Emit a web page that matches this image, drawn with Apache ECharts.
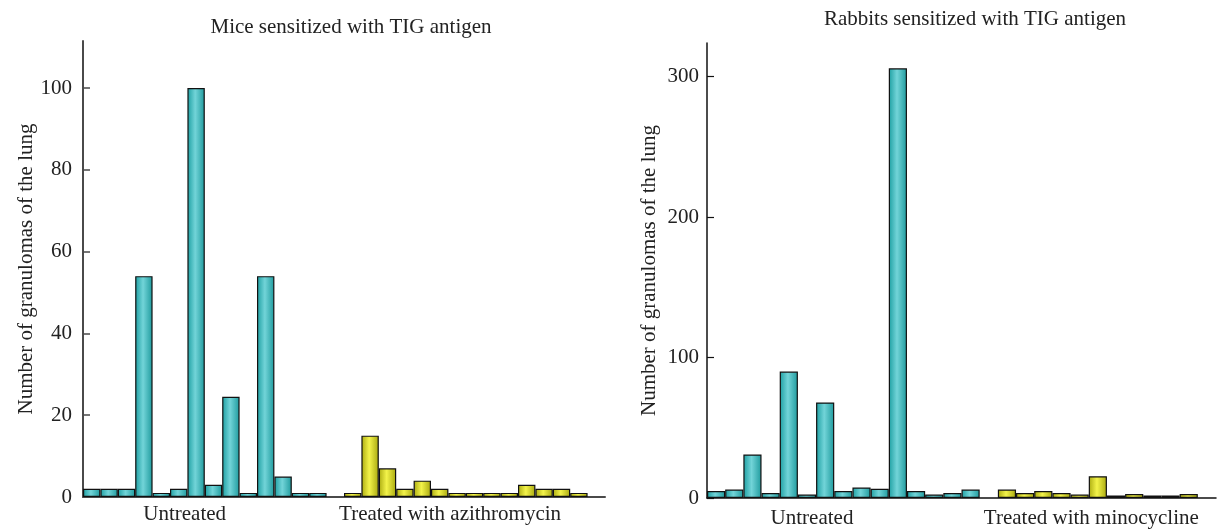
<!DOCTYPE html>
<html>
<head>
<meta charset="utf-8">
<script src="https://cdn.jsdelivr.net/npm/echarts@6/dist/echarts.min.js"></script>
<style>
html,body{margin:0;padding:0;background:#fff;}
#chart{width:1224px;height:529px;}
</style>
</head>
<body>
<div id="chart"></div>
<script>
// ---- data ----
const mouseTitle = 'Mice sensitized with TIG antigen';
const rabbitTitle = 'Rabbits sensitized with TIG antigen';
const yAxisName = 'Number of granulomas of the lung';

const mouseUntreated = [2, 2, 2, 54, 1, 2, 100, 3, 24.5, 1, 54, 5, 1, 1];
const mouseTreated = [1, 15, 7, 2, 4, 2, 1, 1, 1, 1, 3, 2, 2, 1];
const mouseGroups = ['Untreated', 'Treated with azithromycin'];
const mouseYTicks = [0, 20, 40, 60, 80, 100];

const rabbitUntreated = [5, 6, 31, 3.5, 90, 2.5, 68, 5, 7.5, 6.5, 306, 5, 2.5, 3.5, 6];
const rabbitTreated = [6, 3.5, 5, 3.5, 2.5, 15.5, 1.8, 2.8, 1.8, 1.8, 2.8];
const rabbitGroups = ['Untreated', 'Treated with minocycline'];
const rabbitYTicks = [0, 100, 200, 300];

// ---- build category slots: group A, one empty gap slot, group B, trailing empty slot ----
function buildSlots(a, b, trailing) {
  const n = a.length + 1 + b.length + trailing;
  const cats = [], sa = [], sb = [];
  for (let i = 0; i < n; i++) {
    cats.push('c' + i);
    sa.push(i < a.length ? a[i] : null);
    const j = i - a.length - 1;
    sb.push(j >= 0 && j < b.length ? b[j] : null);
  }
  return { cats, sa, sb };
}
const mouse = buildSlots(mouseUntreated, mouseTreated, 1);
const rabbit = buildSlots(rabbitUntreated, rabbitTreated, 1);

const FONT = 'Liberation Serif';
const FS = 21;
const teal = new echarts.graphic.LinearGradient(0, 0, 1, 0, [
  { offset: 0, color: '#1d9fa2' },
  { offset: 0.45, color: '#72d4d8' },
  { offset: 1, color: '#1e9a9d' }
]);
const yellow = new echarts.graphic.LinearGradient(0, 0, 1, 0, [
  { offset: 0, color: '#abab10' },
  { offset: 0.45, color: '#f3f34a' },
  { offset: 1, color: '#a8a80e' }
]);

function groupLabelFormatter(aIdx, bIdx, groups) {
  return function (val, idx) {
    if (idx === aIdx) return '{a|' + groups[0] + '}';
    if (idx === bIdx) return '{b|' + groups[1] + '}';
    return '';
  };
}

const chart = echarts.init(document.getElementById('chart'));
chart.setOption({
  animation: false,
  backgroundColor: '#fff',
  textStyle: { fontFamily: FONT },
  title: [
    { text: mouseTitle, left: 346, top: 12, textAlign: 'center',
      textStyle: { fontFamily: FONT, fontSize: FS, fontWeight: 'normal', color: '#222' } },
    { text: rabbitTitle, left: 970, top: 4, textAlign: 'center',
      textStyle: { fontFamily: FONT, fontSize: FS, fontWeight: 'normal', color: '#222' } }
  ],
  grid: [
    { left: 83, top: 41, width: 522, height: 456 },
    { left: 707, top: 43, width: 509, height: 459 }
  ],
  xAxis: [
    { type: 'category', gridIndex: 0, data: mouse.cats, boundaryGap: true,
      axisLine: { lineStyle: { color: '#4a4a4a', width: 2 } },
      axisTick: { show: false },
      axisLabel: { interval: 0, margin: 7, color: '#222', fontFamily: FONT, fontSize: FS,
        formatter: groupLabelFormatter(5, 21, mouseGroups),
        rich: { a: { fontFamily: FONT, fontSize: FS, color: '#222', padding: [0, 0, 0, 12] },
                b: { fontFamily: FONT, fontSize: FS, color: '#222', padding: [0, 14, 0, 0] } } } },
    { type: 'category', gridIndex: 1, data: rabbit.cats, boundaryGap: true,
      axisLine: { lineStyle: { color: '#111', width: 1.5 } },
      axisTick: { show: false },
      axisLabel: { interval: 0, margin: 10, color: '#222', fontFamily: FONT, fontSize: FS,
        formatter: groupLabelFormatter(5, 21, rabbitGroups),
        rich: { a: { fontFamily: FONT, fontSize: FS, color: '#222', padding: [0, 0, 0, 10] },
                b: { fontFamily: FONT, fontSize: FS, color: '#222', padding: [0, 13, 0, 0] } } } }
  ],
  yAxis: [
    { type: 'value', gridIndex: 0, min: 0, max: 111.5, interval: 20,
      name: yAxisName, nameLocation: 'middle', nameGap: 46, nameRotate: 90,
      nameTextStyle: { fontFamily: FONT, fontSize: FS, color: '#222' },
      splitLine: { show: false },
      axisLine: { show: true, lineStyle: { color: '#4a4a4a', width: 2 } },
      axisTick: { show: true, inside: true, length: 7, customValues: mouseYTicks,
        lineStyle: { color: '#4a4a4a', width: 1.5 } },
      axisLabel: { margin: 11, color: '#222', fontFamily: FONT, fontSize: FS, customValues: mouseYTicks } },
    { type: 'value', gridIndex: 1, min: 0, max: 324, interval: 100,
      name: yAxisName, nameLocation: 'middle', nameGap: 47, nameRotate: 90,
      nameTextStyle: { fontFamily: FONT, fontSize: FS, color: '#222' },
      splitLine: { show: false },
      axisLine: { show: true, lineStyle: { color: '#111', width: 1.5 } },
      axisTick: { show: true, inside: true, length: 7, customValues: rabbitYTicks,
        lineStyle: { color: '#111', width: 1.2 } },
      axisLabel: { margin: 8, color: '#222', fontFamily: FONT, fontSize: FS, customValues: rabbitYTicks } }
  ],
  series: [
    { type: 'bar', xAxisIndex: 0, yAxisIndex: 0, stack: 'm', data: mouse.sa, barWidth: '100%',
      itemStyle: { color: teal, borderColor: '#111', borderWidth: 1.2 } },
    { type: 'bar', xAxisIndex: 0, yAxisIndex: 0, stack: 'm', data: mouse.sb, barWidth: '100%',
      itemStyle: { color: yellow, borderColor: '#111', borderWidth: 1.2 } },
    { type: 'bar', xAxisIndex: 1, yAxisIndex: 1, stack: 'r', data: rabbit.sa, barWidth: '100%',
      itemStyle: { color: teal, borderColor: '#111', borderWidth: 1.2 } },
    { type: 'bar', xAxisIndex: 1, yAxisIndex: 1, stack: 'r', data: rabbit.sb, barWidth: '100%',
      itemStyle: { color: yellow, borderColor: '#111', borderWidth: 1.2 } }
  ]
});
</script>
</body>
</html>
